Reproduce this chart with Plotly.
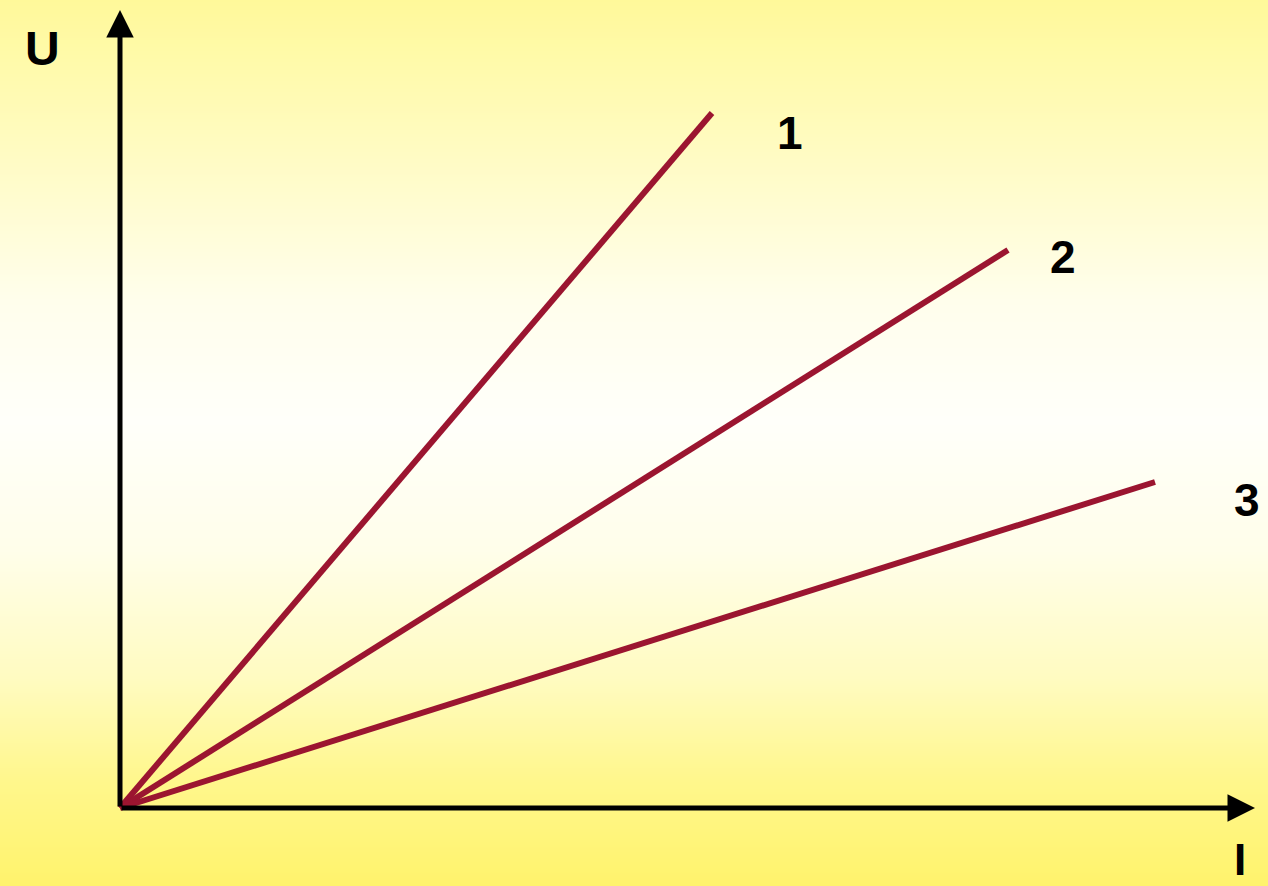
import plotly.graph_objects as go

# Data: straight-line U(I) characteristics starting at the origin
line_names = ["1", "2", "3"]
i_end = [5.92, 8.88, 10.35]
u_end = [6.95, 5.58, 3.26]

# Axis extents
x_range = [-1.20, 11.48]
y_range = [-0.78, 8.08]
x_arrow_tip = 11.35
y_arrow_tip = 7.98

# Background gradient (top -> bottom)
bg_y = [8.08, 6.58, 5.08, 3.88, 2.58, 1.28, 0.28, -0.78]
bg_colors = ["#FFF99A", "#FFFBC2", "#FFFEEC", "#FFFFFA", "#FFFEEA", "#FFFBC0", "#FFF78C", "#FFF36C"]

RED = "#9B1530"
BLACK = "#000000"

fig = go.Figure()

n = len(bg_y)
fig.add_trace(go.Heatmap(
    x=[x_range[0] - 0.5, x_range[1] + 0.5],
    y=bg_y,
    z=[[k / (n - 1), k / (n - 1)] for k in range(n)],
    colorscale=[[k / (n - 1), c] for k, c in enumerate(bg_colors)],
    zmin=0, zmax=1, zsmooth="best", showscale=False, hoverinfo="skip",
))

for name, ie, ue in zip(line_names, i_end, u_end):
    fig.add_trace(go.Scatter(
        x=[0, ie], y=[0, ue], mode="lines", name=name,
        line=dict(color=RED, width=6), showlegend=False,
    ))

# Axes with arrows
fig.add_annotation(x=x_arrow_tip, y=0, ax=0, ay=0, xref="x", yref="y", axref="x", ayref="y",
                   showarrow=True, arrowhead=2, arrowsize=1.1, arrowwidth=5, arrowcolor=BLACK, text="")
fig.add_annotation(x=0, y=y_arrow_tip, ax=0, ay=0, xref="x", yref="y", axref="x", ayref="y",
                   showarrow=True, arrowhead=2, arrowsize=1.1, arrowwidth=5, arrowcolor=BLACK, text="")

font = dict(family="Liberation Sans, Arial, sans-serif", size=46, color=BLACK)
label_pos = [(6.70, 6.75), (9.43, 5.51), (11.27, 3.08)]
for name, (lx, ly) in zip(line_names, label_pos):
    fig.add_annotation(x=lx, y=ly, text=f"<b>{name}</b>", showarrow=False, font=font)
fig.add_annotation(x=-0.78, y=7.60, text="<b>U</b>", showarrow=False,
                   font=dict(family="Liberation Sans, Arial, sans-serif", size=48, color=BLACK))
fig.add_annotation(x=11.20, y=-0.51, text="<b>I</b>", showarrow=False,
                   font=dict(family="Liberation Sans, Arial, sans-serif", size=44, color=BLACK))

fig.update_xaxes(range=x_range, visible=False, showgrid=False, zeroline=False)
fig.update_yaxes(range=y_range, visible=False, showgrid=False, zeroline=False)
fig.update_layout(
    width=1268, height=886, margin=dict(l=0, r=0, t=0, b=0),
    paper_bgcolor="#FFF9B0", plot_bgcolor="#FFF9B0", showlegend=False,
)

fig.write_html(
    "out.html",
    config={"displayModeBar": False},
    post_script="document.body.style.margin='0';document.body.style.padding='0';",
)
